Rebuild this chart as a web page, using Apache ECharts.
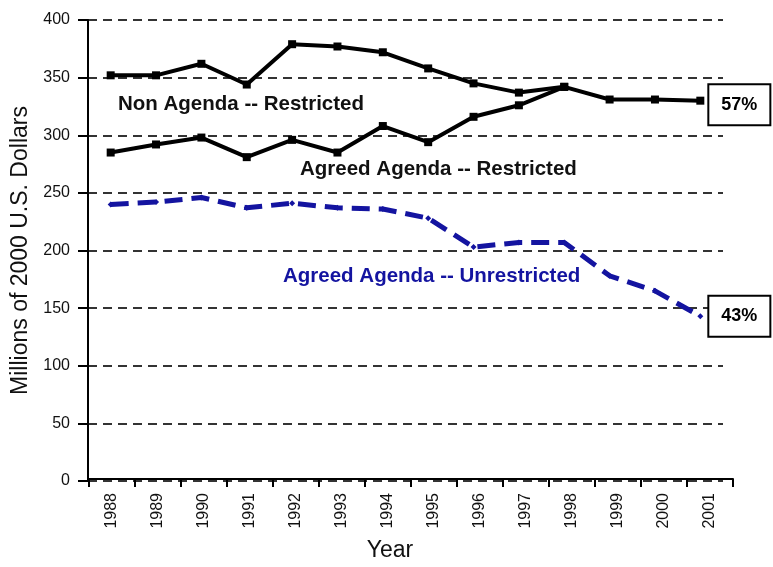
<!DOCTYPE html>
<html>
<head>
<meta charset="utf-8">
<script src="https://cdn.jsdelivr.net/npm/echarts@6/dist/echarts.min.js"></script>
<style>
  html, body { margin: 0; padding: 0; background: #fff; }
  #chart { width: 773px; height: 567px; }
</style>
</head>
<body>
<div id="chart"></div>
<script>
// years along the x axis
var years = ['1988','1989','1990','1991','1992','1993','1994','1995','1996','1997','1998','1999','2000','2001'];
// millions of 2000 US dollars
var nonAgendaRestricted = [352, 352, 362, 344, 379, 377, 372, 358, 345, 337, 342, 331, 331, 330];
var agreedRestricted = [285, 292, 298, 281, 296, 285, 308, 294, 316, 326, 342];
var agreedUnrestricted = [240, 242, 246, 237, 241, 237, 236, 228, 203, 207, 207, 178, 165, 143];
var yTicks = [0, 50, 100, 150, 200, 250, 300, 350, 400];

var myChart = echarts.init(document.getElementById('chart'));
var font = 'Liberation Sans, Arial, sans-serif';
var blue = '#1414a0';

var endBox = function(txt, dy) {
	return {
		show: true,
		formatter: txt,
		distance: 9,
		offset: [0, dy],
		backgroundColor: '#fff',
		borderColor: '#000',
		borderWidth: 2,
		padding: [11, 12, 10, 12],
		fontFamily: font,
		fontSize: 18,
		fontWeight: 'bold',
		color: '#000'
	};
};

var option = {
	animation: false,
	backgroundColor: '#fff',
	// grid 0 holds the data, grid 1 only carries the printed year axis (it runs a bit wider)
	grid: [
		{ left: 88, top: 20, right: 50, bottom: 86 },
		{ left: 89, top: 20, right: 40, bottom: 86 }
	],
	xAxis: [
		{
			type: 'category',
			gridIndex: 0,
			data: years,
			boundaryGap: true,
			show: false
		},
		{
			type: 'category',
			gridIndex: 1,
			data: years,
			boundaryGap: true,
			name: 'Year',
			nameLocation: 'middle',
			nameGap: 60,
			nameTextStyle: { fontFamily: font, fontSize: 23, color: '#111', padding: [0, 42, 0, 0] },
			axisLine: { lineStyle: { color: '#000', width: 2 } },
			axisTick: { show: true, length: 8, lineStyle: { color: '#000', width: 2 } },
			axisLabel: { rotate: 90, fontFamily: font, fontSize: 16, color: '#111', margin: 14 }
		}
	],
	yAxis: [
		{
			type: 'value',
			gridIndex: 0,
			min: yTicks[0],
			max: yTicks[yTicks.length - 1],
			interval: 50,
			name: 'Millions of 2000 U.S. Dollars',
			nameLocation: 'middle',
			nameGap: 52,
			nameTextStyle: { fontFamily: font, fontSize: 23, color: '#111' },
			axisLine: { show: true, lineStyle: { color: '#000', width: 2 } },
			axisTick: { show: true, length: 10, lineStyle: { color: '#000', width: 2 } },
			axisLabel: { fontFamily: font, fontSize: 16, color: '#111', margin: 18 },
			splitLine: { show: true, lineStyle: { color: '#333', width: 2, type: [9, 6] } }
		},
		{
			type: 'value',
			gridIndex: 1,
			min: 0,
			max: 400,
			show: false
		}
	],
	series: [
		{
			name: 'Agreed Agenda -- Unrestricted',
			type: 'line',
			data: agreedUnrestricted,
			symbol: 'diamond',
			symbolSize: 6,
			itemStyle: { color: blue },
			lineStyle: { color: blue, width: 5, type: [18, 9] },
			endLabel: endBox('43%', 0)
		},
		{
			name: 'Agreed Agenda -- Restricted',
			type: 'line',
			data: agreedRestricted,
			symbol: 'rect',
			symbolSize: 8,
			itemStyle: { color: '#000' },
			lineStyle: { color: '#000', width: 4 }
		},
		{
			name: 'Non Agenda -- Restricted',
			type: 'line',
			data: nonAgendaRestricted,
			symbol: 'rect',
			symbolSize: 8,
			itemStyle: { color: '#000' },
			lineStyle: { color: '#000', width: 4 },
			endLabel: endBox('57%', 4)
		}
	],
	graphic: [
		{ type: 'text', left: 118, top: 94, style: { text: 'Non Agenda -- Restricted', font: 'bold 20.5px ' + font, fill: '#111' } },
		{ type: 'text', left: 300, top: 159, style: { text: 'Agreed Agenda -- Restricted', font: 'bold 20.5px ' + font, fill: '#111' } },
		{ type: 'text', left: 283, top: 266, style: { text: 'Agreed Agenda -- Unrestricted', font: 'bold 20.5px ' + font, fill: blue } }
	]
};
myChart.setOption(option);
</script>
</body>
</html>
